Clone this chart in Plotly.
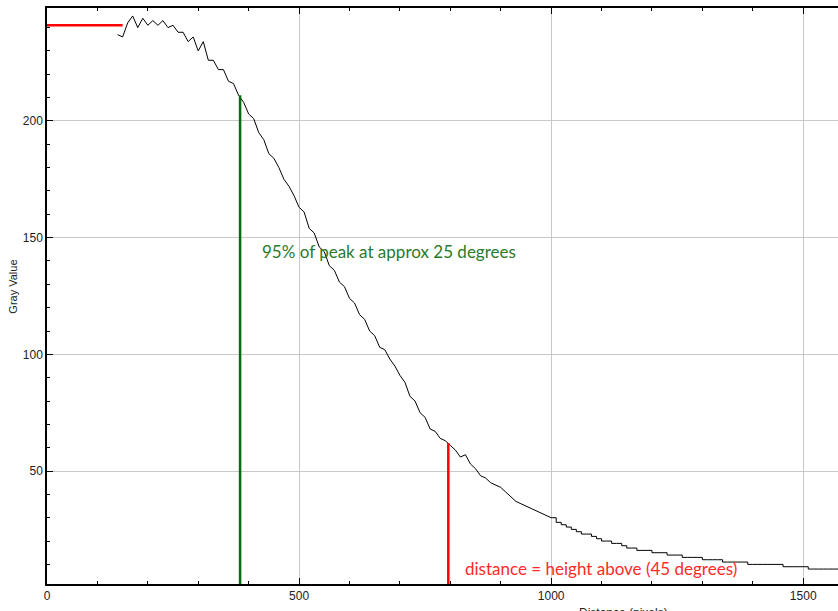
import plotly.graph_objects as go

# Sample positions (pixels along the profile) and gray values
distance = list(range(140, 1571, 10))
gray_value = [
    237, 236, 242, 245, 240, 244, 241, 243, 241, 243,   # 140-230
    240, 241, 238, 238, 234, 236, 230, 234, 226, 226,   # 240-330
    222, 222, 217, 216, 211, 208, 203, 201, 195, 192,   # 340-430
    186, 184, 180, 175, 172, 168, 163, 161, 154, 152,   # 440-530
    146, 144, 138, 136, 131, 129, 124, 122, 117, 115,   # 540-630
    110, 108, 103, 102, 98, 95, 91, 88, 82, 80,         # 640-730
    75, 73, 68, 67, 64, 63, 61, 59, 56, 57,             # 740-830
    53, 51, 48, 47, 45, 44, 43, 41, 39, 37,             # 840-930
    36, 35, 34, 33, 32, 31, 30, 28, 27, 26,             # 940-1030
    25, 24, 23, 23, 22, 21, 20, 20, 19, 19,             # 1040-1130
    18, 17, 17, 16, 16, 16, 15, 15, 15, 14,             # 1140-1230
    14, 14, 13, 13, 13, 13, 12, 12, 12, 12,             # 1240-1330
    11, 11, 11, 11, 11, 10, 10, 10, 10, 10,             # 1340-1430
    10, 10, 9, 9, 9, 9, 9, 8, 8, 8,                     # 1440-1530
    8, 8, 8, 8,                                         # 1540-1570
]
split_distance = 1000  # noisy steep part drawn straight, flat tail drawn as steps

# Reference markers
peak_level = 241
peak_line_end = 150
green_x = 383
green_top = 211
red_x = 796
red_top = 62
y_min, y_max = 1.6, 248.4
x_min, x_max = 0, 1569

green_label = "95% of peak at approx 25 degrees"
green_label_pos = (423, 144)
red_label = "distance = height above (45 degrees)"
red_label_pos = (825, 8.4)
x_title = "Distance (pixels)"
x_title_pos = 1143
y_title = "Gray Value"
y_title_pos = 129

x_ticks = [0, 500, 1000, 1500]
y_ticks = [50, 100, 150, 200]

head_x = [d for d in distance if d <= split_distance]
head_y = gray_value[:len(head_x)]
tail_x = [d for d in distance if d >= split_distance]
tail_y = gray_value[len(head_x) - 1:]

fig = go.Figure()

fig.add_trace(go.Scatter(
    x=head_x, y=head_y, mode="lines",
    line=dict(color="black", width=1),
    showlegend=False, hoverinfo="skip",
))
fig.add_trace(go.Scatter(
    x=tail_x, y=tail_y, mode="lines",
    line=dict(color="black", width=1, shape="hv"),
    showlegend=False, hoverinfo="skip",
))

fig.add_trace(go.Scatter(
    x=[x_min, peak_line_end], y=[peak_level, peak_level], mode="lines",
    line=dict(color="#ff0000", width=2.5), showlegend=False,
))
fig.add_trace(go.Scatter(
    x=[green_x, green_x], y=[y_min, green_top], mode="lines",
    line=dict(color="#0b6b0b", width=2.5), showlegend=False,
))
fig.add_trace(go.Scatter(
    x=[red_x, red_x], y=[y_min, red_top], mode="lines",
    line=dict(color="#ff0000", width=2.5), showlegend=False,
))

fig.add_annotation(
    x=green_label_pos[0], y=green_label_pos[1], text=green_label,
    showarrow=False, xanchor="left", yanchor="middle",
    font=dict(family="Lato", size=17, color="#2a7a2a"),
)
fig.add_annotation(
    x=red_label_pos[0], y=red_label_pos[1], text=red_label,
    showarrow=False, xanchor="left", yanchor="middle",
    font=dict(family="Lato", size=17, color="#ff2a2a"),
)
fig.add_annotation(
    x=x_title_pos, xref="x", y=0, yref="paper", text=x_title,
    showarrow=False, xanchor="center", yanchor="top", yshift=-20,
    font=dict(family="Liberation Sans", size=12, color="#222222"),
)
fig.add_annotation(
    x=0, xref="paper", xshift=-34, y=y_title_pos, yref="y", text=y_title,
    textangle=-90, showarrow=False, xanchor="center", yanchor="middle",
    font=dict(family="Liberation Sans", size=11, color="#222222"),
)

axis_font = dict(family="Liberation Sans", size=12, color="#222222")

fig.update_xaxes(
    range=[x_min, x_max], tickvals=x_ticks, automargin=False,
    showline=True, linecolor="black", linewidth=1.5, mirror="ticks",
    ticks="inside", ticklen=6, tickcolor="black",
    minor=dict(dtick=100, ticks="inside", ticklen=3, tickcolor="black", showgrid=False),
    showgrid=True, gridcolor="#c8c8c8", gridwidth=1, zeroline=False,
    tickfont=axis_font,
)
fig.update_yaxes(
    range=[y_min, y_max], tickvals=y_ticks, automargin=False,
    showline=True, linecolor="black", linewidth=1.5, mirror=False,
    ticks="inside", ticklen=6, tickcolor="black",
    minor=dict(dtick=10, ticks="inside", ticklen=3, tickcolor="black", showgrid=False),
    showgrid=True, gridcolor="#c8c8c8", gridwidth=1, zeroline=False,
    tickfont=axis_font,
)

fig.update_layout(
    width=838, height=611,
    margin=dict(l=47, r=0, t=8, b=27),
    plot_bgcolor="white", paper_bgcolor="white",
    showlegend=False,
)

# Remove the page's default body margin so the 838x611 figure fills the window exactly.
fig.write_html(
    "out.html",
    config={"displayModeBar": False},
    post_script="document.body.style.margin='0';document.body.style.overflow='hidden';",
)
